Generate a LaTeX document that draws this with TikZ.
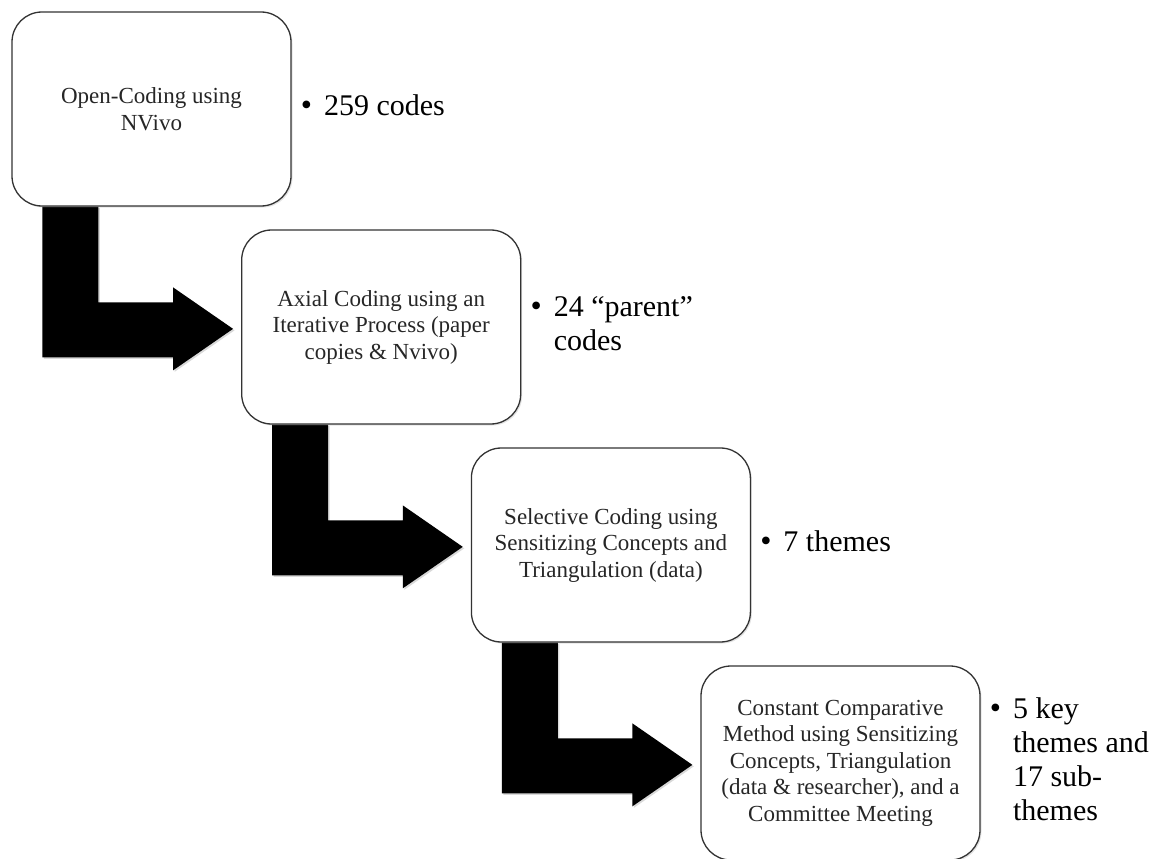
\documentclass[tikz,border=0pt]{standalone}
\usepackage{fontspec}
\setmainfont{Liberation Serif}
\usetikzlibrary{calc,shadows}
\pgfdeclarelayer{bg}
\pgfsetlayers{bg,main}
\newcommand\bul{\raisebox{0.5pt}{\fontsize{32}{32}\selectfont\textbullet}}
\tikzset{
  stepbox/.style={draw=black!80, line width=1.3pt, rounded corners=30pt, fill=white,
    minimum width=279pt, minimum height=194pt, align=center, inner sep=0pt,
    font=\fontsize{23}{26.5}\selectfont, text=black!85,
    drop shadow={opacity=0.22, shadow xshift=1.5pt, shadow yshift=-1.5pt}},
  blockarrow/.style={fill=black,
    drop shadow={opacity=0.3, shadow xshift=1.5pt, shadow yshift=-1.5pt}},
  note/.style={anchor=west, inner sep=0pt, font=\fontsize{30}{34}\selectfont},
}
\newcommand\bentarrow[2]{%
  \begin{pgfonlayer}{bg}
  \fill[blockarrow]
    ($(#1.south west)+(31,0)$) -- ($(#1.south west)+(87,0)$)
    -- ($(#1.south west |- #2.north west)+(87,73)$)
    -- ($(#2.north west)+(-68,73)$)
    -- ($(#2.north west)+(-68,58)$)
    -- ($(#2.north west)+(-8,99.5)$)
    -- ($(#2.north west)+(-68,141)$)
    -- ($(#2.north west)+(-68,128)$)
    -- ($(#1.south west |- #2.north west)+(31,128)$) -- cycle;
  \end{pgfonlayer}}
\begin{document}
\begin{tikzpicture}[x=1pt,y=-1pt]
\useasboundingbox (0,0) rectangle (1160,859);
\node[stepbox] (b1) at (151.5,109) {Open-Coding using\\NVivo};
\node[stepbox] (b2) at (381.2,327) {Axial Coding using an\\Iterative Process (paper\\copies \& Nvivo)};
\node[stepbox] (b3) at (610.9,545) {Selective Coding using\\Sensitizing Concepts and\\Triangulation (data)};
\node[stepbox] (b4) at (840.5,763) {Constant Comparative\\Method using Sensitizing\\Concepts, Triangulation\\(data \& researcher), and a\\Committee Meeting};
\bentarrow{b1}{b2}
\bentarrow{b2}{b3}
\bentarrow{b3}{b4}
\node[note] (l1) at ($(b1.east)+(9,0)$) {\begin{tabular}{@{}l@{\hspace{12pt}}l@{}}\bul & 259 codes\end{tabular}};
\node[note] (l2) at ($(b2.east)+(9,0)$) {\begin{tabular}{@{}l@{\hspace{12pt}}l@{}}\bul & 24 “parent”\\ & codes\end{tabular}};
\node[note] (l3) at ($(b3.east)+(9,0)$) {\begin{tabular}{@{}l@{\hspace{12pt}}l@{}}\bul & 7 themes\end{tabular}};
\node[note] (l4) at ($(b4.east)+(9,0)$) {\begin{tabular}{@{}l@{\hspace{12pt}}l@{}}\bul & 5 key\\ & themes and\\ & 17 sub-\\ & themes\end{tabular}};
\end{tikzpicture}
\end{document}
